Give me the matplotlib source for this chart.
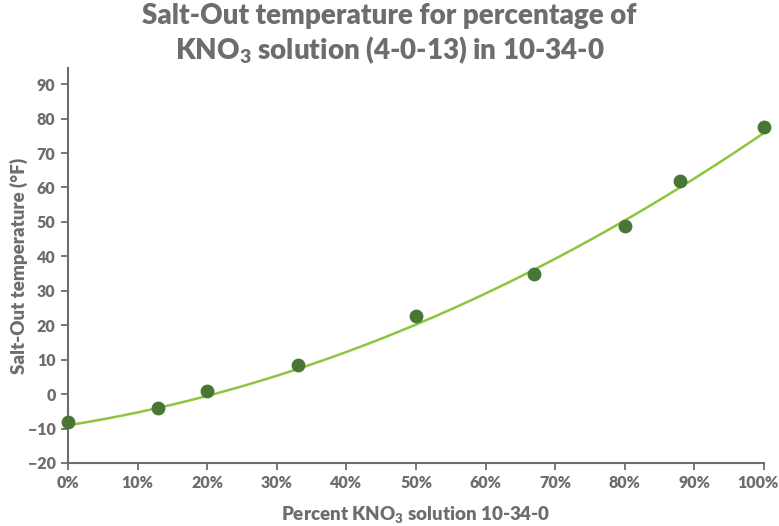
import matplotlib
matplotlib.use('Agg')
import matplotlib.pyplot as plt
import matplotlib.transforms as mtransforms
import numpy as np

# percent KNO3 solution vs salt-out temperature (F)
pct_kno3 = [0, 13, 20, 33, 50, 67, 80, 88, 100]
salt_out_f = [-8.1, -4.1, 0.9, 8.4, 22.7, 34.9, 48.8, 61.9, 77.6]
# trendline (polynomial, order 2)
trend_pct = [0, 23, 33, 50, 67, 80, 100]
trend_f = [-9.2, 1.2, 7.5, 20.5, 35.5, 50.5, 76.0]
yticks = list(range(-20, 100, 10))
xticks = list(range(0, 110, 10))

grey = '#6d6d6d'
plt.rcParams['font.family'] = ['Lato', 'DejaVu Sans']
plt.rcParams['mathtext.fontset'] = 'custom'
plt.rcParams['mathtext.rm'] = 'Lato:heavy'
plt.rcParams['mathtext.it'] = 'Lato:heavy'
plt.rcParams['mathtext.bf'] = 'Lato:heavy'

fig = plt.figure(figsize=(7.79, 5.26), dpi=100)
ax = fig.add_axes([0.0873, 0.1198, 0.8934, 0.751])

coef = np.polyfit(trend_pct, trend_f, 2)
xs = np.linspace(0, 100, 200)
ax.plot(xs, np.polyval(coef, xs), color='#8cc63f', lw=1.8, zorder=2, clip_on=False)
ax.scatter(pct_kno3, salt_out_f, s=80, color='#4a7635', zorder=3, clip_on=False)

ax.set_xlim(0, 100)
ax.set_ylim(-20, 94.7)
ax.set_yticks(yticks)
ax.set_xticks(xticks)
ax.set_xticklabels(['%d%%' % t for t in xticks])

for s in ['top', 'right']:
    ax.spines[s].set_visible(False)
for s in ['left', 'bottom']:
    ax.spines[s].set_color(grey)
    ax.spines[s].set_linewidth(1.5)
ax.tick_params(colors=grey, labelsize=11.5, width=1.3, length=5, pad=4)
for lab in ax.get_xticklabels() + ax.get_yticklabels():
    lab.set_fontweight('heavy')
# nudge "100%" inward so it stays inside the figure
last = ax.get_xticklabels()[-1]
last.set_transform(last.get_transform() +
                   mtransforms.ScaledTranslation(-6 / 100, 0, fig.dpi_scale_trans))

ax.set_xlabel('Percent KNO$_3$ solution 10-34-0', fontsize=13.5, color=grey,
              fontweight='heavy')
ax.xaxis.set_label_coords(0.5, -0.105)
ax.set_ylabel('Salt-Out temperature (\u00b0F)', fontsize=13.5, color=grey,
              fontweight='heavy')
ax.yaxis.set_label_coords(-0.058, 0.5)
fig.suptitle('Salt-Out temperature for percentage of\nKNO$_3$ solution (4-0-13) in 10-34-0',
             fontsize=20, color=grey, fontweight='heavy', y=0.995, linespacing=1.25)

fig.savefig('out.png', dpi=100)
